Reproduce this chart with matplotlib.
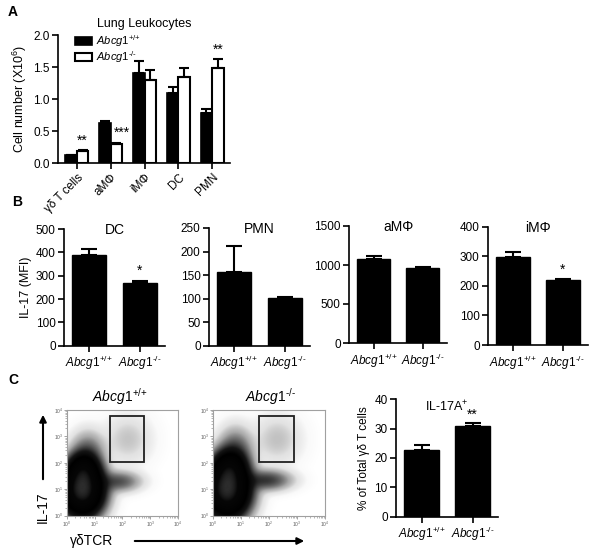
import numpy as np
import matplotlib
matplotlib.use("Agg")
import matplotlib.pyplot as plt
from matplotlib.patches import Patch, Rectangle, FancyArrowPatch
from matplotlib.colors import LinearSegmentedColormap

plt.rcParams['font.family'] = ['Liberation Sans', 'DejaVu Sans']
plt.rcParams['mathtext.fontset'] = 'custom'
plt.rcParams['mathtext.rm'] = 'Liberation Sans'
plt.rcParams['mathtext.it'] = 'Liberation Sans:italic'
plt.rcParams['mathtext.bf'] = 'Liberation Sans:bold'

# ---------------- data ----------------
# Panel A
a_categories = ['γδ T cells', 'aMΦ', 'iMΦ', 'DC', 'PMN']
a_wt = [0.12, 0.62, 1.41, 1.10, 0.78]
a_wt_err = [0.01, 0.04, 0.19, 0.08, 0.07]
a_ko = [0.19, 0.30, 1.29, 1.34, 1.49]
a_ko_err = [0.01, 0.01, 0.17, 0.15, 0.14]
a_stars = ['**', '***', '', '', '**']

# Panel B
b_titles = ['DC', 'PMN', 'aMΦ', 'iMΦ']
b_wt = [387, 156, 1077, 296]
b_wt_err = [28, 56, 40, 19]
b_ko = [269, 101, 957, 219]
b_ko_err = [10, 3, 18, 4]
b_ymax = [500, 250, 1500, 400]
b_ystep = [100, 50, 500, 100]
b_stars = ['*', '', '', '*']

# Panel C bar
c_values = [22.7, 30.9]
c_err = [1.6, 1.1]
c_stars = ['', '**']

genotypes = [r'$\mathit{Abcg1}^{\text{+/+}}$', r'$\mathit{Abcg1}^{\text{-/-}}$']

# Panel C flow density components (log10 x, log10 y, sx, sy, weight)
flow_wt_cx = [0.55, 0.60, 0.75, 1.85, 2.20]
flow_wt_cy = [1.00, 1.75, 2.40, 1.30, 2.90]
flow_wt_sx = [0.40, 0.30, 0.35, 0.45, 0.50]
flow_wt_sy = [0.52, 0.35, 0.45, 0.22, 0.55]
flow_wt_w = [1.00, 0.35, 0.05, 0.06, 0.012]
flow_ko_cx = [0.50, 0.60, 0.80, 1.90, 2.30]
flow_ko_cy = [1.00, 1.80, 2.45, 1.35, 2.90]
flow_ko_sx = [0.42, 0.32, 0.35, 0.50, 0.50]
flow_ko_sy = [0.55, 0.38, 0.50, 0.22, 0.55]
flow_ko_w = [1.00, 0.40, 0.06, 0.08, 0.013]
gate_wt = [1.55, 2.77, 2.02, 3.78]   # x0, x1, y0, y1 (log10)
gate_ko = [1.65, 2.89, 2.02, 3.78]

# ---------------- layout helpers ----------------
W, H = 600, 552
fig = plt.figure(figsize=(W / 100, H / 100), dpi=100)


def add_ax(l, t, r, b):
    return fig.add_axes([l / W, 1 - b / H, (r - l) / W, (b - t) / H])


def ftext(x, y, s, **kw):
    fig.text(x / W, 1 - y / H, s, **kw)


def style_bar_axis(ax):
    ax.spines['top'].set_visible(False)
    ax.spines['right'].set_visible(False)
    for s in ['left', 'bottom']:
        ax.spines[s].set_linewidth(1.2)
    ax.tick_params(width=1.2, length=4, labelsize=8.5, pad=2)


# ---------------- Panel A ----------------
axA = add_ax(58, 35, 230, 163)
x = np.arange(len(a_categories))
bw = 0.34
axA.bar(x - bw / 2, a_wt, bw, color='black', edgecolor='black', linewidth=1.2,
        yerr=[np.zeros(len(x)), a_wt_err], error_kw=dict(ecolor='black', elinewidth=1.5, capsize=3.5, capthick=1.5),
        label=r'$\mathit{Abcg1}^{\text{+/+}}$')
axA.bar(x + bw / 2, a_ko, bw, color='white', edgecolor='black', linewidth=1.5,
        yerr=[np.zeros(len(x)), a_ko_err], error_kw=dict(ecolor='black', elinewidth=1.5, capsize=3.5, capthick=1.5),
        label=r'$\mathit{Abcg1}^{\text{-/-}}$')
axA.set_xlim(-0.56, 4.53)
axA.set_ylim(0, 2.0)
axA.set_yticks([0, 0.5, 1.0, 1.5, 2.0])
axA.set_yticklabels(['0.0', '0.5', '1.0', '1.5', '2.0'])
axA.set_xticks(x)
axA.set_xticklabels(a_categories, rotation=45, ha='right', rotation_mode='anchor')
style_bar_axis(axA)
axA.set_ylabel(r'Cell number (X10$^{6}$)', fontsize=9, labelpad=3)
axA.set_title('Lung Leukocytes', fontsize=9, pad=6)
for i, s in enumerate(a_stars):
    if s:
        top = a_ko[i] + a_ko_err[i]
        if s == '***':
            axA.text(x[i] + bw * 0.95, top + 0.06, s, ha='center', va='bottom', fontsize=10)
        else:
            axA.text(x[i] + bw / 2, top + 0.03, s, ha='center', va='bottom', fontsize=10)
leg = axA.legend(loc='upper left', bbox_to_anchor=(0.075, 1.05), frameon=False, fontsize=8,
                 handlelength=1.5, handleheight=0.75, handletextpad=0.35, labelspacing=0.05, borderaxespad=0)
ftext(8, 12, 'A', fontsize=10, fontweight='bold', va='center')

# ---------------- Panel B ----------------
b_boxes = [(64, 229, 165, 345.7), (209, 228, 310, 345.7), (349, 226, 447, 343), (488, 226.7, 588, 345)]
for k in range(4):
    ax = add_ax(*b_boxes[k])
    ax.bar([0, 1], [b_wt[k], b_ko[k]], 0.68, color='black', edgecolor='black',
           yerr=[[0, 0], [b_wt_err[k], b_ko_err[k]]],
           error_kw=dict(ecolor='black', elinewidth=1.5, capsize=6, capthick=1.5))
    ax.set_xlim(-0.5, 1.5)
    ax.set_ylim(0, b_ymax[k])
    ax.set_yticks(np.arange(0, b_ymax[k] + 1, b_ystep[k]))
    ax.set_xticks([0, 1])
    ax.set_xticklabels(genotypes)
    style_bar_axis(ax)
    ax.tick_params(axis='x', labelsize=8.5)
    ax.set_title(b_titles[k], fontsize=10, pad=2, y=0.93)
    if b_stars[k]:
        ax.text(1, b_ko[k] + b_ko_err[k] + b_ymax[k] * 0.02, b_stars[k], ha='center', va='bottom', fontsize=10)
    if k == 0:
        ax.set_ylabel('IL-17 (MFI)', fontsize=9, labelpad=3)
ftext(12, 202, 'B', fontsize=10, fontweight='bold', va='center')

# ---------------- Panel C flow plots ----------------
cmap = LinearSegmentedColormap.from_list('flow', [
    (0.0, '#ffffff'), (0.25, '#fafafa'), (0.45, '#e2e2e2'), (0.58, '#a8a8a8'),
    (0.68, '#5a5a5a'), (0.76, '#151515'), (0.84, '#000000'), (0.96, '#060606'), (1.0, '#2c2c2c')])
gx = np.linspace(0, 4, 300)
GX, GY = np.meshgrid(gx, gx)


def density(cx, cy, sx, sy, w):
    d = np.zeros_like(GX)
    for i in range(len(cx)):
        d += w[i] * np.exp(-0.5 * (((GX - cx[i]) / sx[i]) ** 2 + ((GY - cy[i]) / sy[i]) ** 2))
    d = d / d.max()
    return np.clip(np.log10(np.maximum(d, 1e-5) / 1e-4) / 4.0, 0, 1)


flow_sets = [
    ((67, 410, 178, 515.7), (flow_wt_cx, flow_wt_cy, flow_wt_sx, flow_wt_sy, flow_wt_w), gate_wt, genotypes[0], 120),
    ((213, 410, 325, 515.7), (flow_ko_cx, flow_ko_cy, flow_ko_sx, flow_ko_sy, flow_ko_w), gate_ko, genotypes[1], 270),
]
for box, comp, gate, title, tx in flow_sets:
    ax = add_ax(*box)
    d = density(*comp)
    ax.imshow(d, extent=[0, 4, 0, 4], origin='lower', cmap=cmap, aspect='auto',
              interpolation='bilinear', vmin=0, vmax=1)
    ax.set_xlim(0, 4)
    ax.set_ylim(0, 4)
    for s in ax.spines.values():
        s.set_color('#a0a0a0')
        s.set_linewidth(0.8)
    ticks = [0, 1, 2, 3, 4]
    minors = [k + np.log10(m) for k in range(4) for m in range(2, 10)]
    ax.set_xticks(ticks)
    ax.set_yticks(ticks)
    ax.set_xticks(minors, minor=True)
    ax.set_yticks(minors, minor=True)
    lbls = [r'$10^{%d}$' % t for t in ticks]
    ax.set_xticklabels(lbls)
    ax.set_yticklabels(lbls)
    ax.tick_params(labelsize=3.5, length=2, width=0.5, color='#808080', labelcolor='#606060', pad=1)
    ax.tick_params(which='minor', length=1.2, width=0.4, color='#808080')
    ax.add_patch(Rectangle((gate[0], gate[2]), gate[1] - gate[0], gate[3] - gate[2],
                           fill=False, edgecolor='#202020', linewidth=1.3))
    ftext(tx, 397, title, fontsize=10, ha='center', va='center')

# axis arrows
fig.add_artist(FancyArrowPatch((43 / W, 1 - 482 / H), (43 / W, 1 - 412 / H), transform=fig.transFigure,
                               arrowstyle='-|>', mutation_scale=10, linewidth=1.5, color='black'))
ftext(43, 507, 'IL-17', fontsize=10, rotation=90, ha='center', va='center')
ftext(92, 541, 'γδTCR', fontsize=10, ha='center', va='center')
fig.add_artist(FancyArrowPatch((132 / W, 1 - 541 / H), (307 / W, 1 - 541 / H), transform=fig.transFigure,
                               arrowstyle='-|>', mutation_scale=10, linewidth=1.5, color='black'))
ftext(8, 380, 'C', fontsize=10, fontweight='bold', va='center')

# ---------------- Panel C bar ----------------
axC = add_ax(396, 399.3, 498, 516.7)
axC.bar([0, 1], c_values, 0.7, color='black', edgecolor='black',
        yerr=[[0, 0], c_err], error_kw=dict(ecolor='black', elinewidth=1.5, capsize=6, capthick=1.5))
axC.set_xlim(-0.5, 1.5)
axC.set_ylim(0, 40)
axC.set_yticks([0, 10, 20, 30, 40])
axC.set_xticks([0, 1])
axC.set_xticklabels(genotypes)
style_bar_axis(axC)
axC.tick_params(axis='x', labelsize=8.5)
axC.set_ylabel('% of Total γδ T cells', fontsize=8.5, labelpad=3)
axC.set_title(r'IL-17A$^{+}$', fontsize=9, y=0.83)
for i, s in enumerate(c_stars):
    if s:
        axC.text(i, c_values[i] + c_err[i] + 0.3, s, ha='center', va='bottom', fontsize=10)

fig.savefig('out.png', dpi=100)
